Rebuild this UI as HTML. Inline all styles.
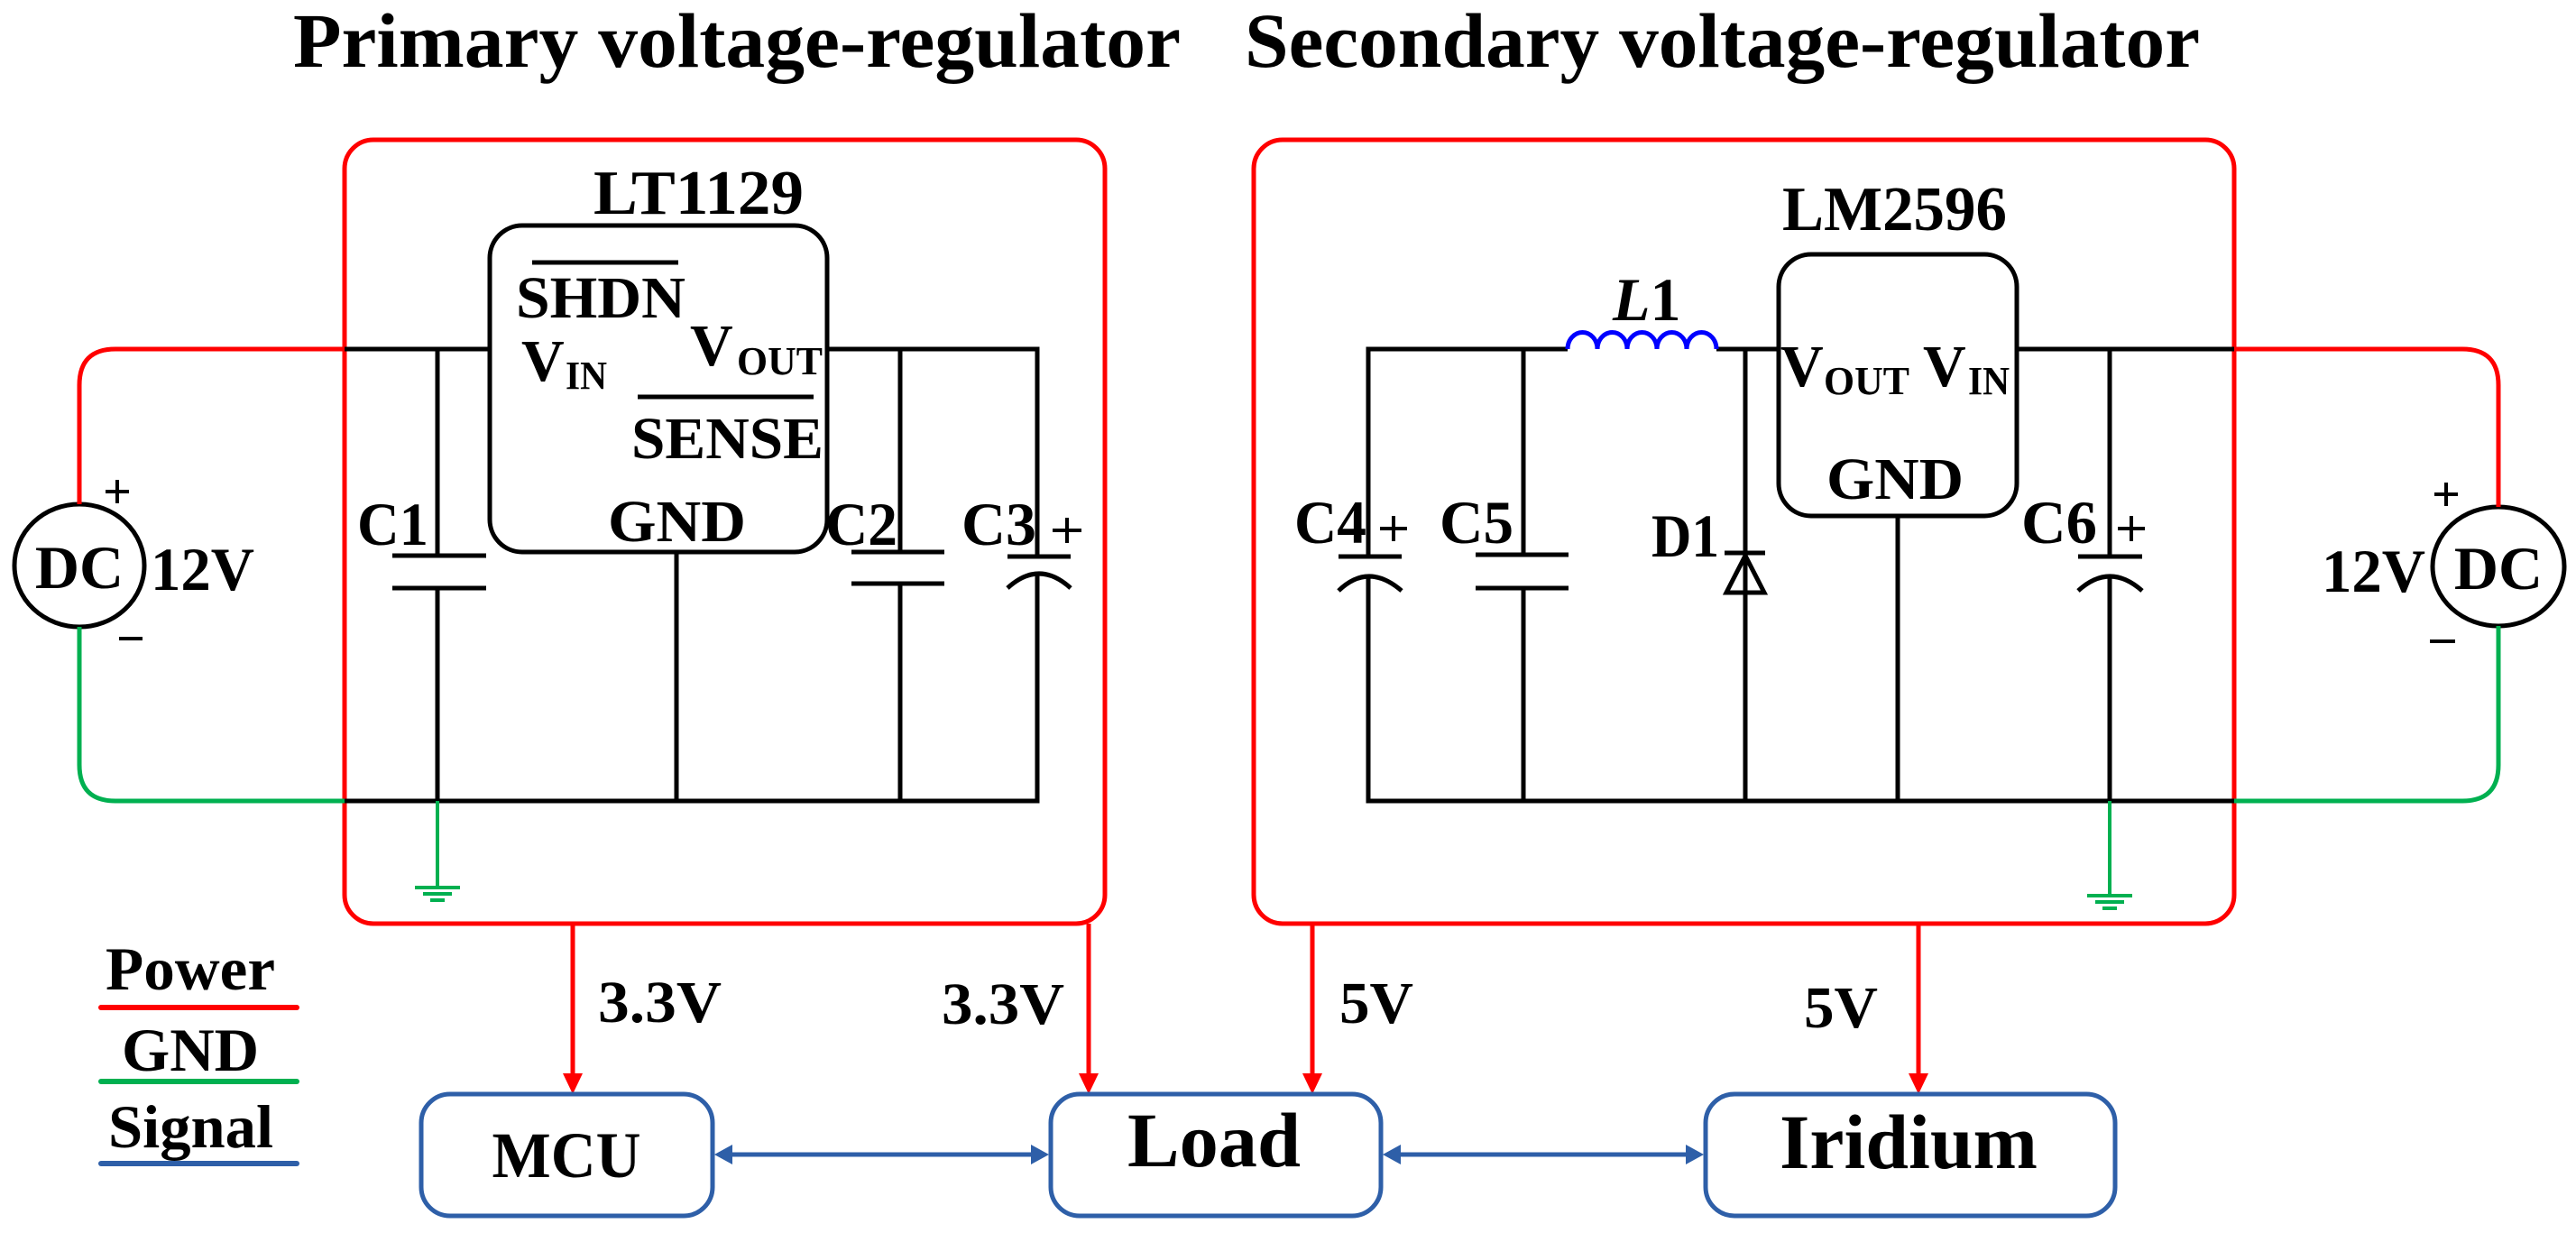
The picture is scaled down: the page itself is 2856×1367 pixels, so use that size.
<!DOCTYPE html>
<html><head><meta charset="utf-8"><style>
html,body{margin:0;padding:0;background:#fff}
svg{display:block}
text{font-family:"Liberation Serif",serif;font-weight:bold;fill:#000}
</style></head><body>
<svg width="2856" height="1367" viewBox="0 0 2856 1367" xmlns="http://www.w3.org/2000/svg">
<defs>
<marker id="ar" markerWidth="8" markerHeight="8" refX="7" refY="4" orient="auto" markerUnits="userSpaceOnUse" viewBox="0 0 8 8"></marker>
</defs>
<!-- titles -->
<text x="325" y="74" font-size="86" textLength="984" lengthAdjust="spacingAndGlyphs">Primary voltage-regulator</text>
<text x="1380" y="74" font-size="86" textLength="1059" lengthAdjust="spacingAndGlyphs">Secondary voltage-regulator</text>

<!-- red boxes -->
<rect x="382" y="155" width="843" height="869" rx="32" fill="none" stroke="#ff0000" stroke-width="5"/>
<rect x="1390" y="155" width="1087" height="869" rx="32" fill="none" stroke="#ff0000" stroke-width="5"/>

<!-- LEFT CIRCUIT -->
<g fill="none" stroke="#000" stroke-width="5">
<rect x="543" y="250" width="374" height="362" rx="36"/>
<path d="M382 387 H543"/>
<path d="M917 387 H1150 V617"/>
<path d="M382 888 H1150 V636"/>
<path d="M485 387 V616 M485 652 V888"/>
<path d="M435 616 H539 M435 652 H539"/>
<path d="M998 387 V612 M998 647 V888"/>
<path d="M944 612 H1047 M944 647 H1047"/>
<path d="M1117 617 H1187"/>
<path d="M1117 652 Q1152 620 1187 652"/>
<path d="M750 612 V888"/>
<path d="M590 291 H752" stroke-width="5"/>
<path d="M707 440 H902" stroke-width="5"/>
<ellipse cx="88" cy="627" rx="72" ry="68"/>
<path d="M130 532 V558 M117 545 H143" stroke-width="4"/>
<path d="M132 708 H158" stroke-width="4"/>
</g>
<path d="M382 387 H128 Q88 387 88 427 V559" fill="none" stroke="#ff0000" stroke-width="5"/>
<path d="M88 695 V848 Q88 888 128 888 H382" fill="none" stroke="#00b050" stroke-width="5"/>
<g stroke="#00b050" stroke-width="4" fill="none">
<path d="M485 888 V984"/>
<path d="M460 984 H510 M469 991 H501 M477 998 H493"/>
</g>
<text x="658" y="237" font-size="70" textLength="233" lengthAdjust="spacingAndGlyphs">LT1129</text>
<text x="572" y="352" font-size="66" textLength="188" lengthAdjust="spacingAndGlyphs">SHDN</text>
<text x="578" y="422" font-size="66">V</text>
<text x="627" y="431" font-size="44" textLength="46" lengthAdjust="spacingAndGlyphs">IN</text>
<text x="765" y="405" font-size="66">V</text>
<text x="817" y="415" font-size="44" textLength="95" lengthAdjust="spacingAndGlyphs">OUT</text>
<text x="700" y="508" font-size="66" textLength="213" lengthAdjust="spacingAndGlyphs">SENSE</text>
<text x="674" y="600" font-size="66" textLength="153" lengthAdjust="spacingAndGlyphs">GND</text>
<text x="396" y="604" font-size="68" textLength="79" lengthAdjust="spacingAndGlyphs">C1</text>
<text x="915" y="604" font-size="68" textLength="80" lengthAdjust="spacingAndGlyphs">C2</text>
<text x="1066" y="604" font-size="68" textLength="83" lengthAdjust="spacingAndGlyphs">C3</text>
<path d="M1183 574 V602 M1167 588 H1199" stroke="#000" stroke-width="4"/>
<text x="88" y="652" font-size="68" text-anchor="middle">DC</text>
<text x="167" y="654" font-size="68" textLength="115" lengthAdjust="spacingAndGlyphs">12V</text>

<!-- RIGHT CIRCUIT -->
<g fill="none" stroke="#000" stroke-width="5">
<rect x="1972" y="282" width="264" height="290" rx="36"/>
<path d="M1517 617 V387 H1738"/>
<path d="M1903 387 H1972"/>
<path d="M2236 387 H2477"/>
<path d="M1517 640 V888 H2477"/>
<path d="M1484 617 H1554"/>
<path d="M1484 655 Q1517 623 1554 655"/>
<path d="M1689 387 V615 M1689 652 V888"/>
<path d="M1636 615 H1739 M1636 652 H1739"/>
<path d="M1935 387 V888"/>
<path d="M1912 613 H1957"/>
<path d="M1935 616 L1914 657 H1956 Z"/>
<path d="M2104 572 V888"/>
<path d="M2339 387 V617 M2339 640 V888"/>
<path d="M2304 617 H2375"/>
<path d="M2304 655 Q2339 623 2375 655"/>
<ellipse cx="2770" cy="628" rx="73" ry="66"/>
<path d="M2712 535 V561 M2699 548 H2725" stroke-width="4"/>
<path d="M2694 711 H2722" stroke-width="4"/>
</g>
<path d="M1738 387 a16 18 0 0 1 33 0 a16 18 0 0 1 33 0 a16 18 0 0 1 33 0 a16 18 0 0 1 33 0 a16 18 0 0 1 33 0" fill="none" stroke="#0000ff" stroke-width="5"/>
<path d="M2477 387 H2730 Q2770 387 2770 427 V562" fill="none" stroke="#ff0000" stroke-width="5"/>
<path d="M2770 694 V848 Q2770 888 2730 888 H2477" fill="none" stroke="#00b050" stroke-width="5"/>
<g stroke="#00b050" stroke-width="4" fill="none">
<path d="M2339 888 V993"/>
<path d="M2314 993 H2364 M2323 1000 H2355 M2331 1007 H2347"/>
</g>
<text x="1976" y="255" font-size="70" textLength="249" lengthAdjust="spacingAndGlyphs">LM2596</text>
<text x="1788" y="355" font-size="68"><tspan font-style="italic">L</tspan>1</text>
<text x="1974" y="428" font-size="66">V</text>
<text x="2022" y="437" font-size="44" textLength="95" lengthAdjust="spacingAndGlyphs">OUT</text>
<text x="2132" y="428" font-size="66">V</text>
<text x="2182" y="437" font-size="44" textLength="46" lengthAdjust="spacingAndGlyphs">IN</text>
<text x="2025" y="553" font-size="66" textLength="152" lengthAdjust="spacingAndGlyphs">GND</text>
<text x="1435" y="602" font-size="68" textLength="80" lengthAdjust="spacingAndGlyphs">C4</text>
<path d="M1545 572 V600 M1530 586 H1560" stroke="#000" stroke-width="4"/>
<text x="1596" y="602" font-size="68" textLength="82" lengthAdjust="spacingAndGlyphs">C5</text>
<text x="1831" y="617" font-size="68" textLength="75" lengthAdjust="spacingAndGlyphs">D1</text>
<text x="2241" y="602" font-size="68" textLength="84" lengthAdjust="spacingAndGlyphs">C6</text>
<path d="M2363 572 V600 M2348 586 H2378" stroke="#000" stroke-width="4"/>
<text x="2770" y="653" font-size="68" text-anchor="middle">DC</text>
<text x="2574" y="656" font-size="68" textLength="115" lengthAdjust="spacingAndGlyphs">12V</text>

<!-- legend -->
<text x="117" y="1097" font-size="68" textLength="188" lengthAdjust="spacingAndGlyphs">Power</text>
<line x1="112" y1="1117" x2="329" y2="1117" stroke="#ff0000" stroke-width="6" stroke-linecap="round"/>
<text x="135" y="1187" font-size="68" textLength="152" lengthAdjust="spacingAndGlyphs">GND</text>
<line x1="112" y1="1199" x2="329" y2="1199" stroke="#00b050" stroke-width="6" stroke-linecap="round"/>
<text x="120" y="1272" font-size="68" textLength="183" lengthAdjust="spacingAndGlyphs">Signal</text>
<line x1="112" y1="1290" x2="329" y2="1290" stroke="#2e5fa8" stroke-width="6" stroke-linecap="round"/>

<!-- red power arrows -->
<g stroke="#ff0000" stroke-width="5">
<line x1="635" y1="1024" x2="635" y2="1192"/>
<line x1="1207" y1="1024" x2="1207" y2="1192"/>
<line x1="1455" y1="1024" x2="1455" y2="1192"/>
<line x1="2127" y1="1024" x2="2127" y2="1192"/>
</g>
<g fill="#ff0000">
<path d="M624 1190 H646 L635 1213 Z"/>
<path d="M1196 1190 H1218 L1207 1213 Z"/>
<path d="M1444 1190 H1466 L1455 1213 Z"/>
<path d="M2116 1190 H2138 L2127 1213 Z"/>
</g>
<text x="663" y="1133" font-size="66" textLength="137" lengthAdjust="spacingAndGlyphs">3.3V</text>
<text x="1044" y="1135" font-size="66" textLength="136" lengthAdjust="spacingAndGlyphs">3.3V</text>
<text x="1485" y="1134" font-size="66" textLength="82" lengthAdjust="spacingAndGlyphs">5V</text>
<text x="2000" y="1139" font-size="66" textLength="82" lengthAdjust="spacingAndGlyphs">5V</text>

<!-- signal boxes -->
<g fill="none" stroke="#2e5fa8" stroke-width="5">
<rect x="467" y="1213" width="323" height="135" rx="32"/>
<rect x="1165" y="1213" width="366" height="135" rx="32"/>
<rect x="1891" y="1213" width="454" height="135" rx="32"/>
<line x1="810" y1="1280" x2="1145" y2="1280"/>
<line x1="1551" y1="1280" x2="1871" y2="1280"/>
</g>
<g fill="#2e5fa8">
<path d="M792 1280 L812 1269 V1291 Z"/>
<path d="M1163 1280 L1143 1269 V1291 Z"/>
<path d="M1533 1280 L1553 1269 V1291 Z"/>
<path d="M1889 1280 L1869 1269 V1291 Z"/>
</g>
<text x="628" y="1305" font-size="72" text-anchor="middle" textLength="165" lengthAdjust="spacingAndGlyphs">MCU</text>
<text x="1346" y="1293" font-size="86" text-anchor="middle" textLength="192" lengthAdjust="spacingAndGlyphs">Load</text>
<text x="2116" y="1295" font-size="86" text-anchor="middle" textLength="286" lengthAdjust="spacingAndGlyphs">Iridium</text>
</svg>
</body></html>
